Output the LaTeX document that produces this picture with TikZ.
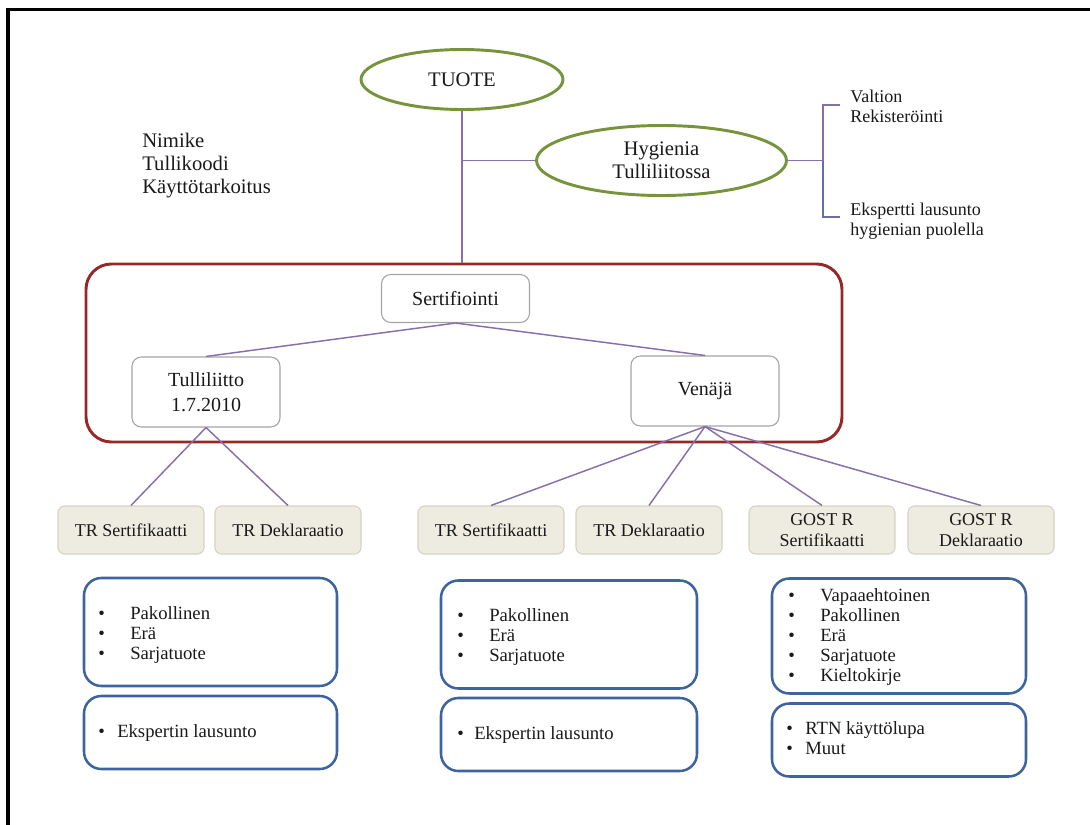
\documentclass[tikz,border=0pt]{standalone}
\usepackage{fontspec}
\setmainfont{Liberation Serif}
\usetikzlibrary{shapes.geometric}
\definecolor{ovalgreen}{RGB}{119,147,60}
\definecolor{linepurple}{RGB}{134,112,172}
\definecolor{linebluish}{RGB}{100,110,170}
\definecolor{certred}{RGB}{150,40,40}
\definecolor{boxgray}{RGB}{165,165,165}
\definecolor{tanfill}{RGB}{238,236,224}
\definecolor{tanedge}{RGB}{214,210,192}
\definecolor{boxblue}{RGB}{62,100,160}
\definecolor{ink}{RGB}{25,25,25}
\def\px{0.75pt}
\newdimen\pxu \pxu=0.75pt
\newcommand{\bul}[1]{\makebox[#1\pxu][l]{\textbullet}}
\tikzset{
  oval/.style={ellipse, draw=ovalgreen, line width=2.2pt, fill=white, inner sep=0pt,
    align=center, text=ink, font=\fontsize{15.5}{17.25}\selectfont},
  conn/.style={draw=linepurple, line width=1.1pt},
  graybox/.style={rectangle, rounded corners=7pt, draw=boxgray, line width=0.8pt, fill=white,
    align=center, inner sep=0pt, text=ink, font=\fontsize{15}{18.75}\selectfont},
  tanbox/.style={rectangle, rounded corners=5pt, draw=tanedge, fill=tanfill, line width=0.8pt,
    minimum width=146*\px, minimum height=48*\px, align=center, inner sep=0pt, text=ink,
    font=\fontsize{13.5}{15.75}\selectfont},
  bluebox/.style={rectangle, rounded corners=13pt, draw=boxblue, line width=1.9pt, inner sep=0pt},
  lst/.style={anchor=base west, inner sep=0pt, text=ink, font=\fontsize{14}{15}\selectfont},
  lbl/.style={anchor=base west, inner sep=0pt, text=ink, font=\fontsize{13.5}{15}\selectfont},
}
\begin{document}
\begin{tikzpicture}[x=0.75pt,y=-0.75pt]
\useasboundingbox (0,0) rectangle (1090,825);
% frame
\draw[line width=2.3pt, black] (8,825) -- (8,9.5) -- (1090,9.5);

% top ovals
\node[oval, minimum width=202*\px, minimum height=60*\px] (tuote) at (462,79.5) {TUOTE};
\node[oval, minimum width=250*\px, minimum height=70*\px] (hyg) at (661.5,160.5) {Hygienia\\Tulliliitossa};

% certification frame
\node[rectangle, rounded corners=19pt, draw=certred, line width=2.2pt, minimum width=756*\px,
      minimum height=178*\px, inner sep=0pt] (cert) at (464,353) {};

\draw[conn] (tuote.south) -- (tuote.south |- cert.north);
\draw[conn] (tuote.south |- hyg.west) -- (hyg.west);

% bracket
\coordinate (bj) at (823,160.5);
\coordinate (bt) at (840,105);
\coordinate (bb) at (840,217);
\draw[conn] (hyg.east) -- (bj);
\draw[conn] (bj) -- (bt -| bj) -- (bt);
\draw[conn, draw=linebluish] (bj) -- (bb -| bj) -- (bb);

\node[lbl] (valtion) at (850,102) {\begin{tabular}[t]{@{}l@{}}Valtion\\Rekisteröinti\end{tabular}};
\node[lbl] (ekspertti) at (850,215) {\begin{tabular}[t]{@{}l@{}}Ekspertti lausunto\\hygienian puolella\end{tabular}};

\node[anchor=base west, inner sep=0pt, text=ink, font=\fontsize{15.5}{17.25}\selectfont] (nimike) at (142,147)
  {\begin{tabular}[t]{@{}l@{}}Nimike\\Tullikoodi\\Käyttötarkoitus\end{tabular}};

% inner gray boxes
\node[graybox, minimum width=148*\px, minimum height=48*\px] (sert) at (455.5,298.5) {Sertifiointi};
\node[graybox, minimum width=148*\px, minimum height=70*\px] (tul) at (206,392) {Tulliliitto\\1.7.2010};
\node[graybox, minimum width=148*\px, minimum height=70*\px] (ven) at (705,391) {Venäjä};

\draw[conn] (sert.south) -- (tul.north);
\draw[conn] (sert.south) -- (ven.north);

% tan boxes
\node[tanbox] (trs1) at (131,530) {TR Sertifikaatti};
\node[tanbox] (trd1) at (288,530) {TR Deklaraatio};
\node[tanbox] (trs2) at (491,530) {TR Sertifikaatti};
\node[tanbox] (trd2) at (649,530) {TR Deklaraatio};
\node[tanbox] (gs) at (822,530) {GOST R\\Sertifikaatti};
\node[tanbox] (gd) at (981,530) {GOST R\\Deklaraatio};

\draw[conn] (tul.south) -- (trs1.north);
\draw[conn] (tul.south) -- (trd1.north);
\draw[conn] (ven.south) -- (trs2.north);
\draw[conn] (ven.south) -- (trd2.north);
\draw[conn] (ven.south) -- (gs.north);
\draw[conn] (ven.south) -- (gd.north);

% blue boxes
\node[bluebox, minimum width=253*\px, minimum height=108*\px] (b1) at (210.5,632) {};
\node[bluebox, minimum width=253*\px, minimum height=73*\px] (b2) at (210.5,732.5) {};
\node[bluebox, minimum width=256*\px, minimum height=108*\px] (b3) at (569,634.5) {};
\node[bluebox, minimum width=256*\px, minimum height=73*\px] (b4) at (569,734.5) {};
\node[bluebox, minimum width=254*\px, minimum height=115*\px] (b5) at (899,636) {};
\node[bluebox, minimum width=254*\px, minimum height=73*\px] (b6) at (899,740) {};

\node[lst] (l1) at (98,619) {\begin{tabular}[t]{@{}l@{}}\bul{32}Pakollinen\\\bul{32}Erä\\\bul{32}Sarjatuote\end{tabular}};
\node[lst] (l2) at (98,737) {\bul{19}Ekspertin lausunto};
\node[lst] (l3) at (457,621) {\begin{tabular}[t]{@{}l@{}}\bul{32}Pakollinen\\\bul{32}Erä\\\bul{32}Sarjatuote\end{tabular}};
\node[lst] (l4) at (457,739) {\bul{17}Ekspertin lausunto};
\node[lst] (l5) at (788,601) {\begin{tabular}[t]{@{}l@{}}\bul{32}Vapaaehtoinen\\\bul{32}Pakollinen\\\bul{32}Erä\\\bul{32}Sarjatuote\\\bul{32}Kieltokirje\end{tabular}};
\node[lst] (l6) at (786,734) {\begin{tabular}[t]{@{}l@{}}\bul{19}RTN käyttölupa\\\bul{19}Muut\end{tabular}};
\end{tikzpicture}
\end{document}
